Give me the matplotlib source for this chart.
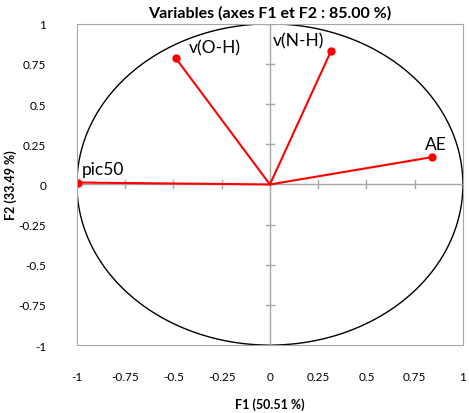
import numpy as np
import matplotlib.pyplot as plt

plt.rcParams['font.family'] = ['Lato', 'DejaVu Sans']

# Variables and loadings on F1 / F2
variables = ['v(O-H)', 'v(N-H)', 'AE', 'pic50']
f1 = [-0.487, 0.316, 0.839, -0.995]
f2 = [0.785, 0.829, 0.170, 0.012]
ticks = [-1, -0.75, -0.5, -0.25, 0, 0.25, 0.5, 0.75, 1]
tick_labels = ['-1', '-0.75', '-0.5', '-0.25', '0', '0.25', '0.5', '0.75', '1']

fig = plt.figure(figsize=(4.69, 4.14), dpi=100)
ax = fig.add_axes([0.164, 0.164, 0.823, 0.776])

# correlation circle
theta = np.linspace(0, 2 * np.pi, 400)
ax.plot(np.cos(theta), np.sin(theta), color='black', lw=1)

# axes through origin with small ticks
grey = '#a6a6a6'
ax.axhline(0, color=grey, lw=1)
ax.axvline(0, color=grey, lw=1)
for t in ticks:
    ax.plot([t, t], [-0.025, 0.025], color=grey, lw=1)
    ax.plot([-0.02, 0.02], [t, t], color=grey, lw=1)

# vectors
for name, x, y in zip(variables, f1, f2):
    ax.plot([0, x], [0, y], color='#ff0000', lw=1.5)
    ax.plot(x, y, 'o', color='#ff0000', ms=5)

offsets = {'v(O-H)': (9, 2, 'left'), 'v(N-H)': (-5, 2, 'right'),
           'AE': (3, 4, 'center'), 'pic50': (3, 4, 'left')}
for name, x, y in zip(variables, f1, f2):
    dx, dy, ha = offsets[name]
    ax.annotate(name, (x, y), xytext=(dx, dy), textcoords='offset points',
                ha=ha, va='bottom', fontsize=12.5)

ax.set_xlim(-1, 1)
ax.set_ylim(-1, 1)
ax.set_xticks(ticks)
ax.set_xticklabels(tick_labels)
ax.set_yticks(ticks)
ax.set_yticklabels(tick_labels)
ax.tick_params(axis='x', length=0, labelsize=8.5, pad=19)
ax.tick_params(axis='y', length=0, labelsize=8.5, pad=22)
for s in ax.spines.values():
    s.set_color(grey)

fig.text(0.576, 0.022, 'F1 (50.51 %)', fontsize=9, fontweight='bold',
         ha='center', va='center')
fig.text(0.022, 0.553, 'F2 (33.49 %)', fontsize=9, fontweight='bold',
         ha='center', va='center', rotation=90)
ax.set_title('Variables (axes F1 et F2 : 85.00 %)', fontsize=11.5, fontweight='bold', pad=5)

plt.savefig('out.png', dpi=100)
